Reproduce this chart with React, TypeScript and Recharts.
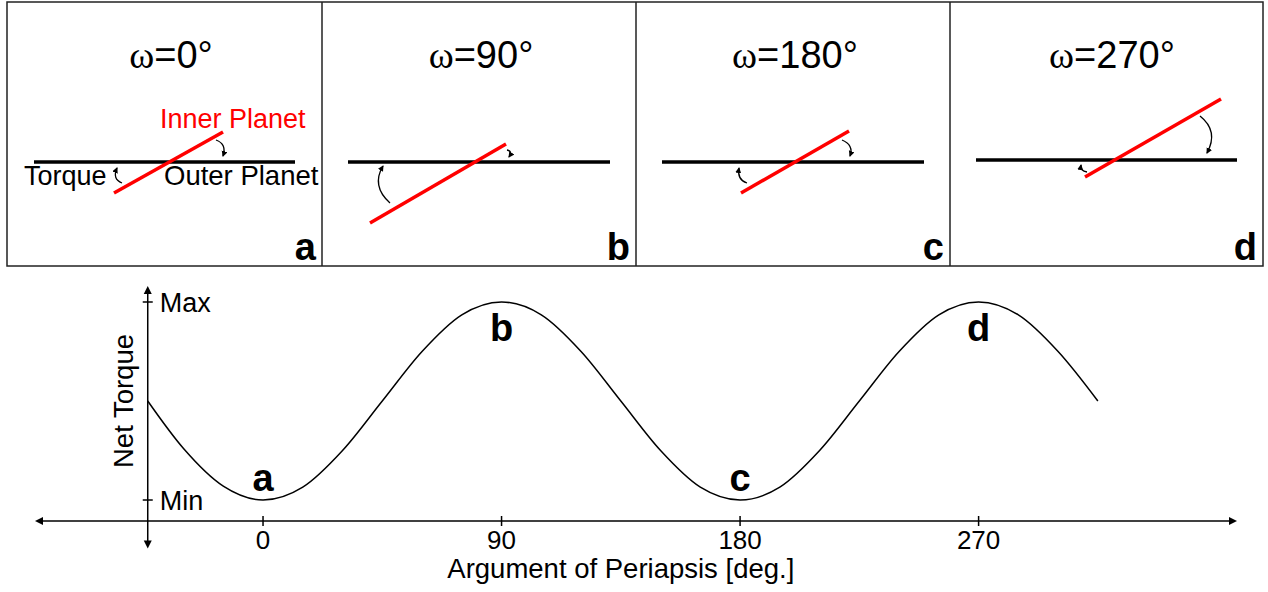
import React from 'react';
import { LineChart, Line, XAxis, YAxis, ReferenceLine, ReferenceDot } from 'recharts';

// ---------- data ----------
const omega = [-43.5, -30, -15, 0, 15, 30, 45, 60, 75, 90, 105, 120, 135, 150, 165, 180, 195, 210, 225, 240, 255, 270, 285, 300, 315];
const torque = [0, -0.48, -0.86, -1, -0.87, -0.5, 0, 0.5, 0.87, 1, 0.87, 0.5, 0, -0.5, -0.87, -1, -0.87, -0.5, 0, 0.5, 0.87, 1, 0.87, 0.5, 0];
const xTicks = [0, 90, 180, 270];
const yTickValues = [1, -1];
const yTickLabels = ['Max', 'Min'];
const markerOmegas = [0, 90, 180, 270];
const markerLetters = ['a', 'b', 'c', 'd'];
const panelOmegas = ['0', '90', '180', '270'];
const panelLetters = ['a', 'b', 'c', 'd'];
const xLabel = 'Argument of Periapsis [deg.]';
const yLabel = 'Net Torque';
const innerLabel = 'Inner Planet';
const outerLabel = 'Outer Planet';
const torqueLabel = 'Torque';

const data = omega.map((o, i) => ({ omega: o, torque: torque[i] }));

// ---------- layout / styles ----------
const FONT = "'Liberation Sans', Arial, Helvetica, sans-serif";
const SERIF = "'Liberation Serif', 'Times New Roman', serif";
const X_DOMAIN: [number, number] = [-86.04, 367.5];
const Y_DOMAIN: [number, number] = [-1.212, 1.1616];
const Y_AXIS_BOTTOM = -1.49;
const TICK_HALF = 1.89;

// top diagram geometry
const panelEdges = [7, 322, 636, 950, 1263];
const panelTop = 2;
const panelBottom = 266;
const titleX = [171, 481, 795, 1112];
const blackLines = [
  [34, 295, 162],
  [348, 610, 162],
  [662, 924, 162],
  [976, 1237, 160],
];
const redLines = [
  [114, 193, 223, 132],
  [370, 223, 506, 144],
  [741, 193, 849, 131],
  [1085, 177, 1221, 99],
];
const arrows = [
  [216, 140, 227, 144, 223, 156],
  [122, 183, 112, 179, 117, 168],
  [390, 203, 371, 186, 383, 166],
  [507, 150, 513, 151, 509, 157],
  [747, 183, 737, 180, 739, 168],
  [842, 140, 854, 145, 850, 156],
  [1200, 116, 1219, 131, 1207, 153],
  [1087, 172, 1080, 171, 1081, 165],
];

const TopPanels = () => (
  <svg width={1268} height={270} style={{ position: 'absolute', left: 0, top: 0 }}>
    <defs>
      <marker id="ah" markerUnits="userSpaceOnUse" markerWidth={7} markerHeight={7} refX={5} refY={3} orient="auto">
        <path d="M0,0 L6,3 L0,6 z" fill="#000" />
      </marker>
    </defs>
    <rect x={panelEdges[0]} y={panelTop} width={panelEdges[4] - panelEdges[0]} height={panelBottom - panelTop} fill="none" stroke="#222" strokeWidth={1.5} />
    {[1, 2, 3].map((i) => (
      <line key={i} x1={panelEdges[i]} x2={panelEdges[i]} y1={panelTop} y2={panelBottom} stroke="#222" strokeWidth={1.5} />
    ))}
    {panelOmegas.map((w, i) => (
      <text key={'t' + i} x={titleX[i]} y={68} textAnchor="middle" fontSize={38} fontFamily={FONT} fill="#000">
        <tspan fontFamily={SERIF}>ω</tspan>={w}°
      </text>
    ))}
    {panelLetters.map((l, i) => (
      <text key={'l' + i} x={panelEdges[i + 1] - 6} y={260} textAnchor="end" fontSize={38} fontWeight="bold" fontFamily={FONT} fill="#000">
        {l}
      </text>
    ))}
    {blackLines.map((b, i) => (
      <line key={'b' + i} x1={b[0]} x2={b[1]} y1={b[2]} y2={b[2]} stroke="#000" strokeWidth={3.5} />
    ))}
    {redLines.map((r, i) => (
      <line key={'r' + i} x1={r[0]} y1={r[1]} x2={r[2]} y2={r[3]} stroke="#ff0000" strokeWidth={3.5} />
    ))}
    {arrows.map((a, i) => (
      <path key={'a' + i} d={`M${a[0]},${a[1]} Q${a[2]},${a[3]} ${a[4]},${a[5]}`} fill="none" stroke="#000" strokeWidth={1.3} markerEnd="url(#ah)" />
    ))}
    <text x={160} y={128} fontSize={27} fontFamily={FONT} fill="#ff0000">{innerLabel}</text>
    <text x={24} y={185} fontSize={27} fontFamily={FONT} fill="#000">{torqueLabel}</text>
    <text x={164} y={185} fontSize={27.5} fontFamily={FONT} fill="#000">{outerLabel}</text>
  </svg>
);

const XTick = (props: any) => {
  const { x, y, payload } = props;
  return (
    <g>
      <line x1={x} x2={x} y1={y - 5} y2={y + 5} stroke="#000" strokeWidth={1.5} />
      <text x={x} y={y + 28} textAnchor="middle" fontSize={26} fontFamily={FONT} fill="#000">
        {payload.value}
      </text>
    </g>
  );
};

const XAxisShape = (p: any) => {
  const y = p.y1;
  const l = Math.min(p.x1, p.x2);
  const r = Math.max(p.x1, p.x2);
  return (
    <g>
      <line x1={l + 3} x2={r - 3} y1={y} y2={y} stroke="#000" strokeWidth={1.5} />
      <polygon points={`${l},${y} ${l + 8},${y - 4} ${l + 8},${y + 4}`} fill="#000" />
      <polygon points={`${r},${y} ${r - 8},${y - 4} ${r - 8},${y + 4}`} fill="#000" />
    </g>
  );
};

const YAxisShape = (p: any) => {
  const x = p.x1;
  const top = Math.min(p.y1, p.y2);
  const bot = Math.max(p.y1, p.y2);
  return (
    <g>
      <line x1={x} x2={x} y1={top + 3} y2={bot - 3} stroke="#000" strokeWidth={1.5} />
      <polygon points={`${x},${top} ${x - 4},${top + 8} ${x + 4},${top + 8}`} fill="#000" />
      <polygon points={`${x},${bot} ${x - 4},${bot - 8} ${x + 4},${bot - 8}`} fill="#000" />
    </g>
  );
};

const makeYTickShape = (label: string) => (p: any) => {
  const l = Math.min(p.x1, p.x2);
  const r = Math.max(p.x1, p.x2);
  const y = p.y1;
  return (
    <g>
      <line x1={l} x2={r} y1={y} y2={y} stroke="#000" strokeWidth={1.5} />
      <text x={r + 7} y={y + 10} fontSize={27} fontFamily={FONT} fill="#000">
        {label}
      </text>
    </g>
  );
};

const YLabelShape = (p: any) => {
  const x = p.x1 - 15;
  const y = (p.y1 + p.y2) / 2;
  return (
    <text x={x} y={y} transform={`rotate(-90 ${x} ${y})`} textAnchor="middle" fontSize={27.5} fontFamily={FONT} fill="#000">
      {yLabel}
    </text>
  );
};

const XLabelShape = (p: any) => (
  <text x={p.cx} y={p.cy + 57} textAnchor="middle" fontSize={27.5} fontFamily={FONT} fill="#000">
    {xLabel}
  </text>
);

const makeLetterShape = (letter: string, above: boolean) => (p: any) => (
  <text x={p.cx} y={above ? p.cy - 9 : p.cy + 39} textAnchor="middle" fontSize={38} fontWeight="bold" fontFamily={FONT} fill="#000">
    {letter}
  </text>
);

export default function App() {
  const yAxisX = omega[0];
  return (
    <div style={{ position: 'absolute', left: 0, top: 0, width: 1268, height: 592, background: '#fff' }}>
      <TopPanels />
      <div style={{ position: 'absolute', left: 0, top: 0 }}>
        <LineChart width={1268} height={592} data={data} margin={{ top: 286, right: 31, bottom: 0, left: 35 }}>
          <XAxis
            dataKey="omega"
            type="number"
            domain={X_DOMAIN}
            allowDataOverflow
            ticks={xTicks}
            interval={0}
            axisLine={false}
            tickLine={false}
            tickSize={0}
            tickMargin={0}
            height={71}
            tick={<XTick />}
          />
          <YAxis hide type="number" domain={Y_DOMAIN} allowDataOverflow />
          <ReferenceLine y={Y_DOMAIN[0]} ifOverflow="visible" shape={XAxisShape} />
          <ReferenceLine
            segment={[{ x: yAxisX, y: Y_DOMAIN[1] }, { x: yAxisX, y: Y_AXIS_BOTTOM }]}
            ifOverflow="visible"
            shape={YAxisShape}
          />
          <ReferenceLine
            segment={[{ x: yAxisX, y: yTickValues[0] }, { x: yAxisX, y: yTickValues[1] }]}
            ifOverflow="visible"
            shape={YLabelShape}
          />
          {yTickValues.map((v, i) => (
            <ReferenceLine
              key={'yt' + i}
              segment={[{ x: yAxisX - TICK_HALF, y: v }, { x: yAxisX + TICK_HALF, y: v }]}
              ifOverflow="visible"
              shape={makeYTickShape(yTickLabels[i])}
            />
          ))}
          <ReferenceDot x={(xTicks[0] + xTicks[xTicks.length - 1]) / 2} y={Y_DOMAIN[0]} r={0} ifOverflow="visible" shape={XLabelShape} />
          <Line type="monotone" dataKey="torque" stroke="#000" strokeWidth={1.5} dot={false} isAnimationActive={false} />
          {markerOmegas.map((o, i) => {
            const v = torque[omega.indexOf(o)];
            return (
              <ReferenceDot key={'m' + i} x={o} y={v} r={0} ifOverflow="visible" shape={makeLetterShape(markerLetters[i], v < 0)} />
            );
          })}
        </LineChart>
      </div>
    </div>
  );
}
